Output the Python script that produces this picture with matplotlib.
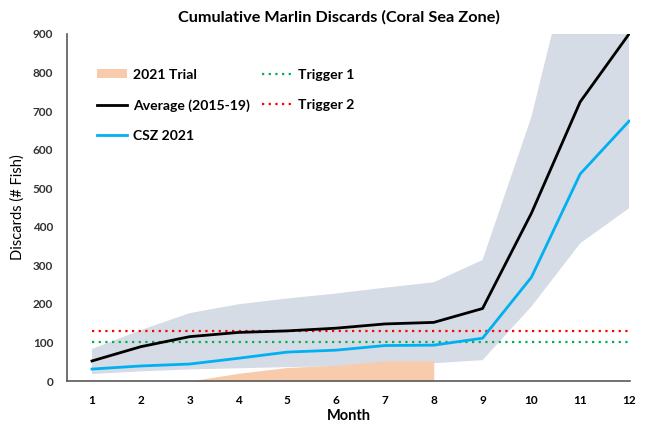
import matplotlib
matplotlib.use('Agg')
import matplotlib.pyplot as plt
from matplotlib.patches import Patch

plt.rcParams['font.family'] = ['Lato', 'DejaVu Sans']

months = [1, 2, 3, 4, 5, 6, 7, 8, 9, 10, 11, 12]
average = [52, 89, 115, 126, 130, 137, 148, 152, 188, 435, 724, 900]
csz_2021 = [31, 39, 44, 59, 75, 80, 92, 93, 111, 269, 537, 674]
band_low = [18, 25, 30, 33, 36, 38, 42, 46, 54, 193, 357, 448]
band_high = [83, 132, 176, 199, 214, 227, 242, 256, 314, 685, 1200, 1500]
trial_months = [3, 4, 5, 6, 7, 8]
trial = [0, 20, 35, 41, 52, 52]
trigger1 = 100
trigger2 = 130

fig = plt.figure(figsize=(6.49, 4.25), dpi=100)
ax = fig.add_axes([67 / 649, 1 - 381 / 425, (630 - 67) / 649, (381 - 34) / 425])

ax.fill_between(months, band_low, band_high, color='#D6DCE5', lw=0, zorder=1)
ax.fill_between(trial_months, 0, trial, color='#F8CBAD', lw=0, zorder=2)
ax.plot(months, [trigger1] * len(months), color='#00B050', ls=(0, (1, 2)), lw=1.6, zorder=3)
ax.plot(months, [trigger2] * len(months), color='#FF0000', ls=(0, (1, 2)), lw=1.6, zorder=3)
ax.plot(months, average, color='black', lw=2, zorder=4)
ax.plot(months, csz_2021, color='#00B0F0', lw=2, zorder=4)

ax.set_xlim(0.488, 12.02)
ax.set_ylim(0, 900)
ax.set_xticks(months)
ax.set_xticklabels([str(m) for m in months], fontweight='bold', fontsize=8.5)
ax.set_yticks(range(0, 901, 100))
ax.set_yticklabels([str(v) for v in range(0, 901, 100)], fontweight='bold', fontsize=8.5, color='#333333')
ax.tick_params(length=0, pad=10)
for s in ['top', 'right']:
    ax.spines[s].set_visible(False)
for s in ['left', 'bottom']:
    ax.spines[s].set_color('#595959')
    ax.spines[s].set_linewidth(1.2)

ax.set_xlabel('Month', fontweight='bold', fontsize=10.5, labelpad=2)
ax.set_ylabel('Discards (# Fish)', fontsize=10.5, labelpad=6)
fig.text(339 / 649, 1 - 17 / 425, 'Cumulative Marlin Discards (Coral Sea Zone)',
         ha='center', va='center', fontweight='bold', fontsize=11.7)

handles = [
    Patch(facecolor='#F8CBAD', edgecolor='none'),
    plt.Line2D([], [], color='black', lw=2),
    plt.Line2D([], [], color='#00B0F0', lw=2),
    plt.Line2D([], [], color='#00B050', ls=(0, (1, 2)), lw=1.6),
    plt.Line2D([], [], color='#FF0000', ls=(0, (1, 2)), lw=1.6),
]
labels = ['2021 Trial', 'Average (2015-19)', 'CSZ 2021', 'Trigger 1', 'Trigger 2']
leg = fig.legend(handles, labels, ncol=2, frameon=False, loc='upper left',
                 bbox_to_anchor=(84 / 649, 1 - 56 / 425),
                 prop={'weight': 'bold', 'size': 10.1},
                 handlelength=2.2, handleheight=0.6, handletextpad=0.4,
                 labelspacing=1.3, columnspacing=0.85)

fig.savefig('out.png', dpi=100)
